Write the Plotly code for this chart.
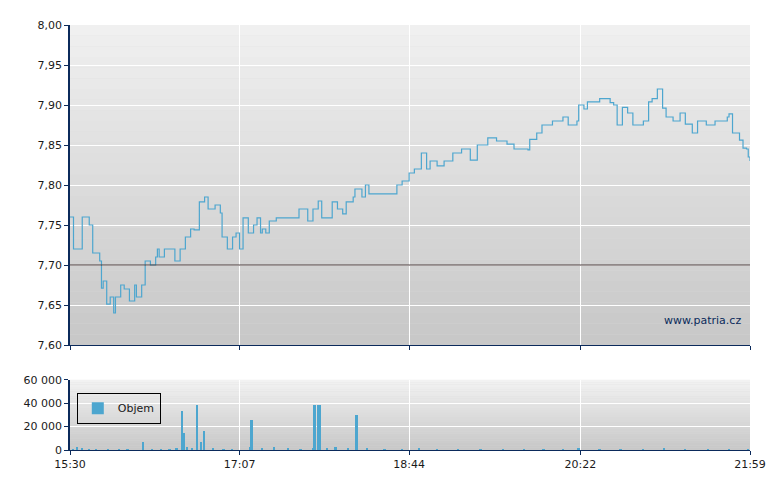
#price + volume intraday chart
import plotly.graph_objects as go

day = "2024-01-01 "

price_times = ["15:30", "15:32", "15:36", "15:37", "15:41", "15:43", "15:47", "15:48", "15:49", "15:51",
               "15:53", "15:55", "15:56", "15:59", "16:01", "16:04", "16:07", "16:08", "16:11", "16:13",
               "16:16", "16:19", "16:20", "16:21", "16:24", "16:27", "16:30", "16:33", "16:36", "16:39",
               "16:41", "16:44", "16:47", "16:49", "16:53", "16:56", "16:57", "17:00", "17:03", "17:05",
               "17:07", "17:09", "17:12", "17:15", "17:17", "17:19", "17:20", "17:22", "17:24", "17:28",
               "17:38", "17:41", "17:46", "17:49", "17:52", "17:54", "17:59", "18:00", "18:03", "18:06",
               "18:08", "18:12", "18:13", "18:17", "18:19", "18:21", "18:35", "18:37", "18:40", "18:44",
               "18:47", "18:51", "18:54", "18:56", "19:00", "19:04", "19:09", "19:14", "19:19", "19:23",
               "19:29", "19:34", "19:40", "19:44", "19:52", "19:53", "19:57", "20:00", "20:06", "20:12",
               "20:15", "20:20", "20:21", "20:24", "20:26", "20:33", "20:39", "20:41", "20:43", "20:46",
               "20:49", "20:52", "20:58", "21:01", "21:03", "21:06", "21:09", "21:11", "21:15", "21:19",
               "21:22", "21:26", "21:29", "21:34", "21:39", "21:46", "21:47", "21:49", "21:53", "21:55",
               "21:57", "21:58", "21:59"]
price_values = [7.760, 7.720, 7.720, 7.760, 7.750, 7.715, 7.705, 7.671, 7.680, 7.651,
                7.660, 7.640, 7.660, 7.675, 7.670, 7.655, 7.675, 7.660, 7.675, 7.705,
                7.700, 7.710, 7.720, 7.710, 7.720, 7.720, 7.705, 7.720, 7.735, 7.745,
                7.744, 7.779, 7.785, 7.770, 7.775, 7.765, 7.735, 7.720, 7.735, 7.740,
                7.720, 7.759, 7.740, 7.750, 7.759, 7.740, 7.745, 7.740, 7.755, 7.759,
                7.759, 7.770, 7.755, 7.770, 7.780, 7.759, 7.759, 7.779, 7.770, 7.764,
                7.779, 7.785, 7.795, 7.785, 7.800, 7.789, 7.789, 7.800, 7.805, 7.815,
                7.820, 7.840, 7.820, 7.830, 7.824, 7.830, 7.840, 7.845, 7.831, 7.850,
                7.859, 7.855, 7.851, 7.845, 7.844, 7.857, 7.865, 7.875, 7.880, 7.885,
                7.875, 7.880, 7.900, 7.895, 7.904, 7.908, 7.903, 7.900, 7.875, 7.897,
                7.890, 7.875, 7.880, 7.904, 7.908, 7.920, 7.896, 7.885, 7.880, 7.890,
                7.876, 7.865, 7.880, 7.875, 7.880, 7.885, 7.889, 7.865, 7.856, 7.846,
                7.845, 7.835, 7.830]

vol_times = ["15:32", "15:34", "15:37", "15:41", "15:45", "15:52", "15:58", "16:03", "16:12", "16:17",
             "16:22", "16:27", "16:31", "16:34", "16:35", "16:37", "16:40", "16:43", "16:45", "16:47",
             "16:52", "16:58", "17:03", "17:13", "17:14", "17:20", "17:27", "17:35", "17:42", "17:49",
             "17:50", "17:52", "17:53", "17:57", "18:02", "18:09", "18:14", "18:20", "18:30", "18:40",
             "18:50", "19:00", "19:12", "19:25", "19:38", "19:50", "20:01", "20:12", "20:21", "20:33",
             "20:45", "20:58", "21:10", "21:22", "21:35", "21:47", "21:58"]
vol_values = [1200, 2500, 1500, 1000, 1200, 1000, 1300, 1100, 7000, 1000,
              1200, 1100, 2000, 33400, 15000, 2500, 2000, 38600, 7000, 16500,
              1500, 1200, 1000, 2500, 26000, 2000, 3000, 1500, 1200, 2000,
              38600, 38600, 38600, 1500, 2500, 1500, 30000, 1500, 1200, 1000,
              1500, 1200, 1000, 1200, 1000, 1200, 1100, 1000, 2000, 1200,
              1000, 1100, 1500, 1000, 1200, 1100, 1000]

tick_labels = ["15:30", "17:07", "18:44", "20:22", "21:59"]
prev_close = 7.70

line_color = "#4da6cf"
axis_color = "#0b2a5b"

fig = go.Figure()
fig.add_trace(go.Scatter(x=[day + t for t in price_times], y=price_values, mode="lines",
                         line=dict(color=line_color, width=1.2, shape="hv"),
                         showlegend=False, xaxis="x", yaxis="y"))
fig.add_trace(go.Bar(x=[day + t for t in vol_times], y=vol_values, name="Objem",
                     marker=dict(color=line_color, line=dict(width=0)), width=60000,
                     xaxis="x2", yaxis="y2"))

# gradient background bands
shapes = []
nbands = 30
for ax_x, ax_y, top, bot in [("x", "y", 240, 200), ("x2", "y2", 242, 200)]:
    for i in range(nbands):
        c = int(top - (top - bot) * i / (nbands - 1))
        shapes.append(dict(type="rect", xref=ax_x + " domain", yref=ax_y + " domain",
                           x0=0, x1=1, y0=1 - (i + 1) / nbands, y1=1 - i / nbands,
                           fillcolor="rgb(%d,%d,%d)" % (c, c, c), line=dict(width=0), layer="below"))
shapes.append(dict(type="line", xref="x domain", yref="y", x0=0, x1=1, y0=prev_close, y1=prev_close,
                   line=dict(color="#4a3a3a", width=1)))

tickvals = [day + t for t in tick_labels]
xcommon = dict(type="date", range=[day + "15:30", day + "21:59"], tickvals=tickvals,
               showgrid=True, gridcolor="white", gridwidth=1.3, zeroline=False,
               ticks="outside", ticklen=4, tickcolor=axis_color, automargin=False,
               showline=True, linecolor=axis_color)

fig.update_layout(
    width=780, height=490, paper_bgcolor="white", plot_bgcolor="#dcdcdc",
    margin=dict(l=62, r=38, t=17, b=48),
    font=dict(family="DejaVu Sans", size=11, color="#1a1a1a"),
    separators=", ",
    bargap=0,
    shapes=shapes,
    xaxis=dict(xcommon, anchor="y", showticklabels=False, matches="x2"),
    xaxis2=dict(xcommon, anchor="y2", ticktext=tick_labels),
    yaxis=dict(domain=[0.247, 1], range=[7.60, 8.00], dtick=0.05, tickformat=".2f",
               showgrid=True, gridcolor="white", gridwidth=1.3, zeroline=False,
               ticks="outside", ticklen=4, tickcolor=axis_color, automargin=False,
               showline=True, linecolor=axis_color, linewidth=1.5),
    yaxis2=dict(domain=[0, 0.165], range=[0, 60000], tickvals=[0, 20000, 40000, 60000],
                tickformat=",d", showgrid=True, gridcolor="white", gridwidth=1.3, zeroline=False,
                ticks="outside", ticklen=4, tickcolor=axis_color, automargin=False,
                showline=True, linecolor=axis_color, linewidth=1.5),
    legend=dict(x=0.01, y=0.135, xanchor="left", yanchor="top", bgcolor="rgba(0,0,0,0)",
                bordercolor="black", borderwidth=1, font=dict(size=11), itemwidth=30),
    showlegend=True,
    annotations=[dict(text="www.patria.cz", xref="x domain", yref="y domain", x=0.99, y=0.05,
                      xanchor="right", yanchor="bottom", showarrow=False,
                      font=dict(size=11, color="#0b2a5b"))],
)

fig.write_html("out.html")
